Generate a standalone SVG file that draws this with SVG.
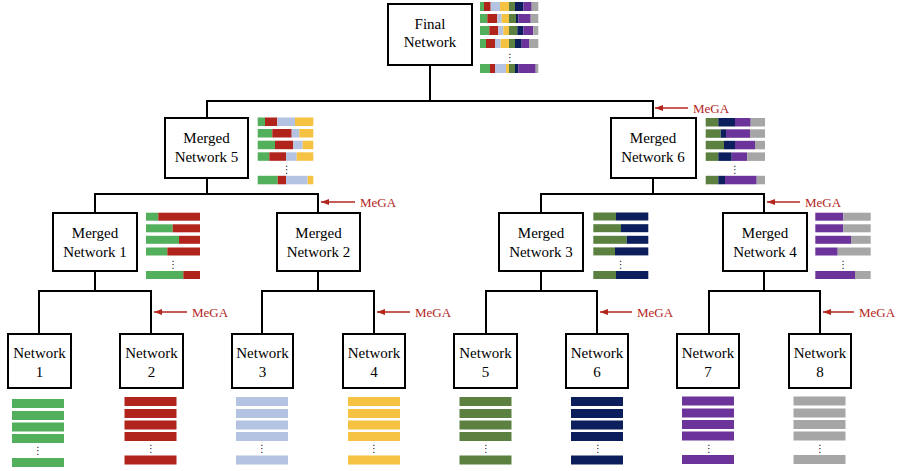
<svg xmlns="http://www.w3.org/2000/svg" width="898" height="471" viewBox="0 0 898 471">
<style>
.box{fill:#fff;stroke:#000;stroke-width:2}
.lbl{font-family:"Liberation Serif","Times New Roman",serif;font-size:15px;fill:#000;text-anchor:middle}
.con{fill:none;stroke:#000;stroke-width:2}
.mega{stroke:#b3261e;stroke-width:1.5;fill:none}
.megat{font-family:"Liberation Serif","Times New Roman",serif;font-size:13px;fill:#b3261e}
.dots{font-family:"DejaVu Sans",sans-serif;font-size:10px;fill:#222;text-anchor:middle}
.G{fill:#52b05d}.R{fill:#b0241b}.L{fill:#b4c3e2}.Y{fill:#f5c242}.O{fill:#5b8040}.N{fill:#0c1f5c}.P{fill:#6c349a}.K{fill:#a6a6a6}
</style>
<defs>
<marker id="ah" markerWidth="8" markerHeight="6" refX="8" refY="3" orient="auto" markerUnits="userSpaceOnUse">
<path d="M0,0 L8,3 L0,6 z" fill="#b3261e"/>
</marker>
</defs>

<g id="connectors">
<path class="con" d="M430,65 V101 M207,101 H653 M207,100 V118 M653,100 V118"/>
<path class="con" d="M207,178 V194 M95,194 H318 M95,193 V213 M318,193 V213"/>
<path class="con" d="M653,178 V194 M541,194 H764 M541,193 V213 M764,193 V213"/>
<path class="con" d="M95,271 V291 M39,291 H151 M39,290 V334 M151,290 V334"/>
<path class="con" d="M318,271 V291 M262,291 H374 M262,290 V334 M374,290 V334"/>
<path class="con" d="M541,271 V291 M486,291 H597 M486,290 V334 M597,290 V334"/>
<path class="con" d="M764,271 V291 M709,291 H820 M709,290 V334 M820,290 V334"/>
</g>

<g id="mega-labels">
<line class="mega" x1="688" y1="108" x2="655" y2="108" marker-end="url(#ah)"/>
<text class="megat" x="693" y="113">MeGA</text>
<line class="mega" x1="355" y1="202" x2="321" y2="202" marker-end="url(#ah)"/>
<text class="megat" x="360" y="207">MeGA</text>
<line class="mega" x1="800" y1="202" x2="767" y2="202" marker-end="url(#ah)"/>
<text class="megat" x="805" y="207">MeGA</text>
<line class="mega" x1="187" y1="312" x2="154" y2="312" marker-end="url(#ah)"/>
<text class="megat" x="192" y="317">MeGA</text>
<line class="mega" x1="410" y1="312" x2="377" y2="312" marker-end="url(#ah)"/>
<text class="megat" x="415" y="317">MeGA</text>
<line class="mega" x1="632" y1="312" x2="600" y2="312" marker-end="url(#ah)"/>
<text class="megat" x="637" y="317">MeGA</text>
<line class="mega" x1="854" y1="312" x2="823" y2="312" marker-end="url(#ah)"/>
<text class="megat" x="859" y="317">MeGA</text>
</g>

<g id="final">
<rect class="box" x="388" y="4" width="84" height="61"/>
<text class="lbl" x="430" y="29">Final</text>
<text class="lbl" x="430" y="47">Network</text>
<g>
<rect class="G" x="480" y="2" width="4" height="9"/><rect class="R" x="484" y="2" width="6.7" height="9"/><rect class="L" x="490.7" y="2" width="9.3" height="9"/><rect class="Y" x="500" y="2" width="9" height="9"/><rect class="O" x="509" y="2" width="6" height="9"/><rect class="N" x="515" y="2" width="8.3" height="9"/><rect class="P" x="523.3" y="2" width="8.4" height="9"/><rect class="K" x="531.7" y="2" width="6.6" height="9"/>
<rect class="G" x="480" y="14" width="7.3" height="9"/><rect class="R" x="487.3" y="14" width="10" height="9"/><rect class="L" x="497.3" y="14" width="4.4" height="9"/><rect class="Y" x="501.7" y="14" width="7.3" height="9"/><rect class="O" x="509" y="14" width="7" height="9"/><rect class="N" x="516" y="14" width="2.3" height="9"/><rect class="P" x="518.3" y="14" width="12.4" height="9"/><rect class="K" x="530.7" y="14" width="7.6" height="9"/>
<rect class="G" x="480" y="26" width="9.3" height="9"/><rect class="R" x="489.3" y="26" width="9" height="9"/><rect class="L" x="498.3" y="26" width="5" height="9"/><rect class="Y" x="503.3" y="26" width="5.7" height="9"/><rect class="O" x="509" y="26" width="8.3" height="9"/><rect class="N" x="517.3" y="26" width="6" height="9"/><rect class="P" x="523.3" y="26" width="10" height="9"/><rect class="K" x="533.3" y="26" width="5" height="9"/>
<rect class="G" x="480" y="39" width="6" height="9"/><rect class="R" x="486" y="39" width="9" height="9"/><rect class="L" x="495" y="39" width="5.7" height="9"/><rect class="Y" x="500.7" y="39" width="8.3" height="9"/><rect class="O" x="509" y="39" width="6" height="9"/><rect class="N" x="515" y="39" width="6.7" height="9"/><rect class="P" x="521.7" y="39" width="7.3" height="9"/><rect class="K" x="529" y="39" width="9.3" height="9"/>
<text class="dots" x="510" y="60.5">⋮</text>
<rect class="G" x="480" y="64" width="10" height="9"/><rect class="R" x="490" y="64" width="5" height="9"/><rect class="L" x="495" y="64" width="11" height="9"/><rect class="Y" x="506" y="64" width="3" height="9"/><rect class="O" x="509" y="64" width="6" height="9"/><rect class="N" x="515" y="64" width="3.3" height="9"/><rect class="P" x="518.3" y="64" width="17.4" height="9"/><rect class="K" x="535.7" y="64" width="2.6" height="9"/>
</g>
</g>

<g id="merged5">
<rect class="box" x="165" y="118" width="83" height="60"/>
<text class="lbl" x="206.5" y="143">Merged</text>
<text class="lbl" x="206.5" y="162">Network 5</text>
<g>
<rect class="G" x="257.7" y="117.5" width="7.3" height="8.5"/><rect class="R" x="265" y="117.5" width="12.3" height="8.5"/><rect class="L" x="277.3" y="117.5" width="17.7" height="8.5"/><rect class="Y" x="295" y="117.5" width="18.3" height="8.5"/>
<rect class="G" x="257.7" y="129" width="14.6" height="8.5"/><rect class="R" x="272.3" y="129" width="19.4" height="8.5"/><rect class="L" x="291.7" y="129" width="7.6" height="8.5"/><rect class="Y" x="299.3" y="129" width="14" height="8.5"/>
<rect class="G" x="257.7" y="140.7" width="17.3" height="8.5"/><rect class="R" x="275" y="140.7" width="18.3" height="8.5"/><rect class="L" x="293.3" y="140.7" width="9.4" height="8.5"/><rect class="Y" x="302.7" y="140.7" width="10.6" height="8.5"/>
<rect class="G" x="257.7" y="152.3" width="11.6" height="8.5"/><rect class="R" x="269.3" y="152.3" width="16.7" height="8.5"/><rect class="L" x="286" y="152.3" width="10.7" height="8.5"/><rect class="Y" x="296.7" y="152.3" width="16.6" height="8.5"/>
<text class="dots" x="286.7" y="172.5">⋮</text>
<rect class="G" x="257.7" y="175.8" width="20" height="8.5"/><rect class="R" x="277.7" y="175.8" width="8.3" height="8.5"/><rect class="L" x="286" y="175.8" width="21.7" height="8.5"/><rect class="Y" x="307.7" y="175.8" width="5.6" height="8.5"/>
</g>
</g>

<g id="merged6">
<rect class="box" x="611" y="118" width="85" height="60"/>
<text class="lbl" x="653" y="143">Merged</text>
<text class="lbl" x="653" y="162">Network 6</text>
<g>
<rect class="O" x="705.7" y="118" width="12.6" height="8.5"/><rect class="N" x="718.3" y="118" width="16.7" height="8.5"/><rect class="P" x="735" y="118" width="15.7" height="8.5"/><rect class="K" x="750.7" y="118" width="14.3" height="8.5"/>
<rect class="O" x="705.7" y="129.3" width="15" height="8.5"/><rect class="N" x="720.7" y="129.3" width="5.3" height="8.5"/><rect class="P" x="726" y="129.3" width="24" height="8.5"/><rect class="K" x="750" y="129.3" width="15" height="8.5"/>
<rect class="O" x="705.7" y="140.8" width="18.3" height="8.5"/><rect class="N" x="724" y="140.8" width="11" height="8.5"/><rect class="P" x="735" y="140.8" width="20" height="8.5"/><rect class="K" x="755" y="140.8" width="10" height="8.5"/>
<rect class="O" x="705.7" y="152.4" width="12.6" height="8.5"/><rect class="N" x="718.3" y="152.4" width="13.4" height="8.5"/><rect class="P" x="731.7" y="152.4" width="15.6" height="8.5"/><rect class="K" x="747.3" y="152.4" width="17.7" height="8.5"/>
<text class="dots" x="735" y="172.5">⋮</text>
<rect class="O" x="705.7" y="175.8" width="12.6" height="8.5"/><rect class="N" x="718.3" y="175.8" width="6.7" height="8.5"/><rect class="P" x="725" y="175.8" width="31.7" height="8.5"/><rect class="K" x="756.7" y="175.8" width="8.3" height="8.5"/>
</g>
</g>

<g id="merged1">
<rect class="box" x="53" y="213" width="84" height="58"/>
<text class="lbl" x="95" y="238">Merged</text>
<text class="lbl" x="95" y="257">Network 1</text>
<g>
<rect class="G" x="146" y="212.7" width="12.3" height="8"/><rect class="R" x="158.3" y="212.7" width="41.7" height="8"/>
<rect class="G" x="146" y="224.3" width="26.7" height="8"/><rect class="R" x="172.7" y="224.3" width="27.3" height="8"/>
<rect class="G" x="146" y="235.8" width="33" height="8"/><rect class="R" x="179" y="235.8" width="21" height="8"/>
<rect class="G" x="146" y="247.5" width="21.3" height="8"/><rect class="R" x="167.3" y="247.5" width="32.7" height="8"/>
<text class="dots" x="173.3" y="267.5">⋮</text>
<rect class="G" x="146" y="271" width="37.3" height="8"/><rect class="R" x="183.3" y="271" width="16.7" height="8"/>
</g>
</g>

<g id="merged2">
<rect class="box" x="277" y="213" width="83" height="58"/>
<text class="lbl" x="318.5" y="238">Merged</text>
<text class="lbl" x="318.5" y="257">Network 2</text>
</g>

<g id="merged3">
<rect class="box" x="499" y="213" width="84" height="58"/>
<text class="lbl" x="541" y="238">Merged</text>
<text class="lbl" x="541" y="257">Network 3</text>
<g>
<rect class="O" x="593.3" y="212.5" width="22.7" height="8"/><rect class="N" x="616" y="212.5" width="32.3" height="8"/>
<rect class="O" x="593.3" y="224.2" width="27.7" height="8"/><rect class="N" x="621" y="224.2" width="27.3" height="8"/>
<rect class="O" x="593.3" y="235.8" width="33.4" height="8"/><rect class="N" x="626.7" y="235.8" width="21.6" height="8"/>
<rect class="O" x="593.3" y="247.4" width="21.7" height="8"/><rect class="N" x="615" y="247.4" width="33.3" height="8"/>
<text class="dots" x="620.7" y="267.5">⋮</text>
<rect class="O" x="593.3" y="271" width="22.7" height="8"/><rect class="N" x="616" y="271" width="32.3" height="8"/>
</g>
</g>

<g id="merged4">
<rect class="box" x="723" y="213" width="84" height="58"/>
<text class="lbl" x="765" y="238">Merged</text>
<text class="lbl" x="765" y="257">Network 4</text>
<g>
<rect class="P" x="815.3" y="212.7" width="28" height="8"/><rect class="K" x="843.3" y="212.7" width="27.4" height="8"/>
<rect class="P" x="815.3" y="224.3" width="28" height="8"/><rect class="K" x="843.3" y="224.3" width="27.4" height="8"/>
<rect class="P" x="815.3" y="235.8" width="35.7" height="8"/><rect class="K" x="851" y="235.8" width="19.7" height="8"/>
<rect class="P" x="815.3" y="247.5" width="22.4" height="8"/><rect class="K" x="837.7" y="247.5" width="33" height="8"/>
<text class="dots" x="843.3" y="267.5">⋮</text>
<rect class="P" x="815.3" y="271" width="39.7" height="8"/><rect class="K" x="855" y="271" width="15.7" height="8"/>
</g>
</g>

<g id="network1">
<rect class="box" x="8" y="334" width="63" height="54"/>
<text class="lbl" x="39.5" y="358">Network</text>
<text class="lbl" x="39.5" y="377">1</text>
<g class="G">
<rect x="12" y="399" width="52" height="9"/><rect x="12" y="411" width="52" height="9"/><rect x="12" y="422.5" width="52" height="9"/><rect x="12" y="434" width="52" height="9"/><rect x="12" y="458" width="52" height="9"/>
</g>
<text class="dots" x="38" y="454">⋮</text>
</g>

<g id="network2">
<rect class="box" x="120" y="334" width="63" height="54"/>
<text class="lbl" x="151.5" y="358">Network</text>
<text class="lbl" x="151.5" y="377">2</text>
<g class="R">
<rect x="124.5" y="397" width="52" height="9"/><rect x="124.5" y="409" width="52" height="9"/><rect x="124.5" y="420.5" width="52" height="9"/><rect x="124.5" y="432" width="52" height="9"/><rect x="124.5" y="455.5" width="52" height="9"/>
</g>
<text class="dots" x="151" y="452">⋮</text>
</g>

<g id="network3">
<rect class="box" x="232" y="334" width="61" height="54"/>
<text class="lbl" x="262.5" y="358">Network</text>
<text class="lbl" x="262.5" y="377">3</text>
<g class="L">
<rect x="236" y="397" width="52" height="9"/><rect x="236" y="409" width="52" height="9"/><rect x="236" y="420.5" width="52" height="9"/><rect x="236" y="432" width="52" height="9"/><rect x="236" y="455.5" width="52" height="9"/>
</g>
<text class="dots" x="262" y="452">⋮</text>
</g>

<g id="network4">
<rect class="box" x="343" y="334" width="62" height="54"/>
<text class="lbl" x="374" y="358">Network</text>
<text class="lbl" x="374" y="377">4</text>
<g class="Y">
<rect x="348" y="397" width="52" height="9"/><rect x="348" y="409" width="52" height="9"/><rect x="348" y="420.5" width="52" height="9"/><rect x="348" y="432" width="52" height="9"/><rect x="348" y="455.5" width="52" height="9"/>
</g>
<text class="dots" x="374" y="452">⋮</text>
</g>

<g id="network5">
<rect class="box" x="454" y="334" width="63" height="54"/>
<text class="lbl" x="485.5" y="358">Network</text>
<text class="lbl" x="485.5" y="377">5</text>
<g class="O">
<rect x="459.5" y="397" width="52" height="9"/><rect x="459.5" y="409" width="52" height="9"/><rect x="459.5" y="420.5" width="52" height="9"/><rect x="459.5" y="432" width="52" height="9"/><rect x="459.5" y="455.5" width="52" height="9"/>
</g>
<text class="dots" x="486" y="452">⋮</text>
</g>

<g id="network6">
<rect class="box" x="566" y="334" width="62" height="54"/>
<text class="lbl" x="597" y="358">Network</text>
<text class="lbl" x="597" y="377">6</text>
<g class="N">
<rect x="571" y="397" width="52" height="9"/><rect x="571" y="409" width="52" height="9"/><rect x="571" y="420.5" width="52" height="9"/><rect x="571" y="432" width="52" height="9"/><rect x="571" y="455.5" width="52" height="9"/>
</g>
<text class="dots" x="598" y="452">⋮</text>
</g>

<g id="network7">
<rect class="box" x="677" y="334" width="62" height="54"/>
<text class="lbl" x="708" y="358">Network</text>
<text class="lbl" x="708" y="377">7</text>
<g class="P">
<rect x="682" y="396.5" width="52" height="9"/><rect x="682" y="408.5" width="52" height="9"/><rect x="682" y="420" width="52" height="9"/><rect x="682" y="431.5" width="52" height="9"/><rect x="682" y="455" width="52" height="9"/>
</g>
<text class="dots" x="709" y="451.5">⋮</text>
</g>

<g id="network8">
<rect class="box" x="789" y="334" width="62" height="54"/>
<text class="lbl" x="820" y="358">Network</text>
<text class="lbl" x="820" y="377">8</text>
<g class="K">
<rect x="793.5" y="396.5" width="52" height="9"/><rect x="793.5" y="408.5" width="52" height="9"/><rect x="793.5" y="420" width="52" height="9"/><rect x="793.5" y="431.5" width="52" height="9"/><rect x="793.5" y="455" width="52" height="9"/>
</g>
<text class="dots" x="820" y="451.5">⋮</text>
</g>
</svg>
